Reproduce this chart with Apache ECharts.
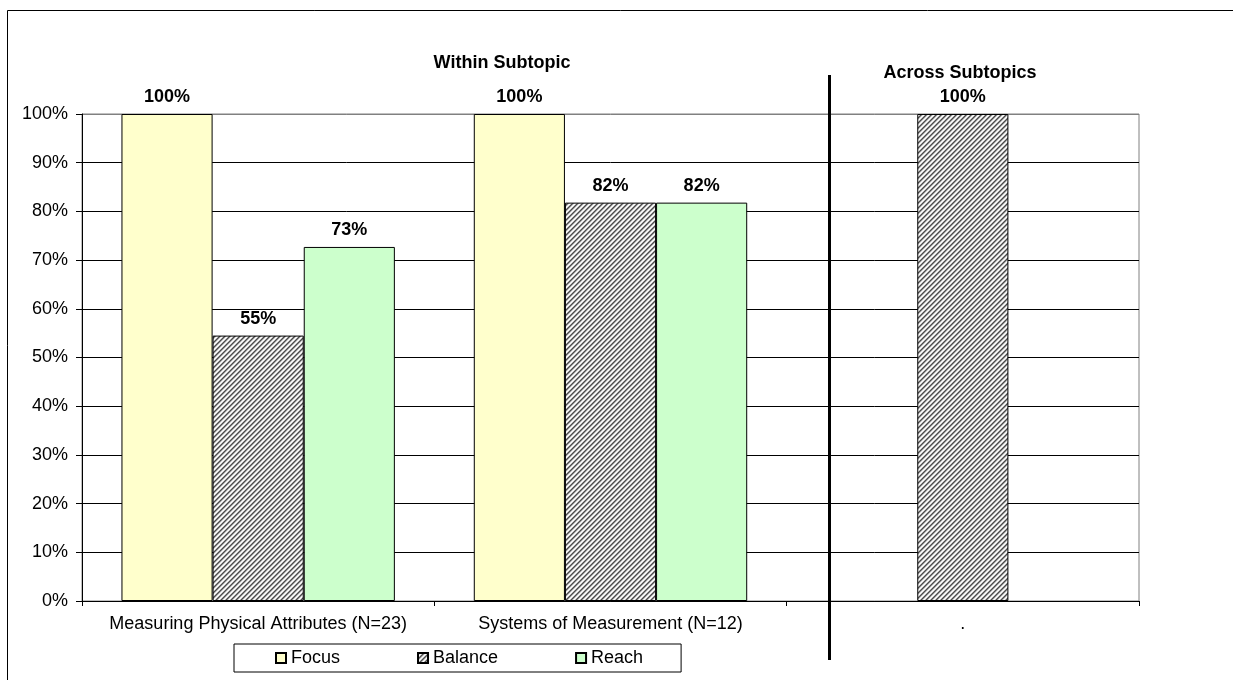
<!DOCTYPE html>
<html>
<head>
<meta charset="utf-8">
<script src="https://cdn.jsdelivr.net/npm/echarts@6/dist/echarts.min.js"></script>
<style>
html,body{margin:0;padding:0;background:#fff;}
#chart{width:1233px;height:680px;}
</style>
</head>
<body>
<div id="chart"></div>
<script>
const categories = ['Measuring Physical Attributes (N=23)', 'Systems of Measurement (N=12)', '.'];
const focusValues = [100, 100, null];
const balanceValues = [54.5, 81.8, 100];
const reachValues = [72.7, 81.8, null];
const yTicks = [0, 10, 20, 30, 40, 50, 60, 70, 80, 90, 100];
const seriesNames = ['Focus', 'Balance', 'Reach'];
const groupTitles = ['Within Subtopic', 'Across Subtopics'];

const FONT = '"Liberation Sans", Arial, sans-serif';
const FS = 18;

// hatch pattern for Balance (upward diagonal stripes)
const P = 5;
const pat = document.createElement('canvas');
pat.width = P; pat.height = P;
const pctx = pat.getContext('2d');
const shades = ['#4a4a4a', '#8c8c8c', '#e6e6e6', '#ffffff', '#b4b4b4'];
for (let x = 0; x < P; x++) {
  for (let y = 0; y < P; y++) {
    pctx.fillStyle = shades[(x + y) % P];
    pctx.fillRect(x, y, 1, 1);
  }
}

const chart = echarts.init(document.getElementById('chart'), null, {renderer: 'canvas'});

const labelCfg = {
  show: true,
  position: 'top',
  distance: 8,
  fontFamily: FONT,
  fontSize: FS,
  fontWeight: 'bold',
  color: '#000',
  formatter: p => Math.round(p.value) + '%'
};

const splitColors = yTicks.map((t, i) => i === yTicks.length - 1 ? '#808080' : '#000');

chart.setOption({
  animation: false,
  backgroundColor: '#fff',
  grid: {
    left: 82, right: 94, top: 114, bottom: 79,
    show: true, borderColor: '#808080', borderWidth: 1, backgroundColor: 'transparent'
  },
  legend: {
    data: seriesNames,
    left: 234, top: 644,
    orient: 'horizontal',
    itemWidth: 10, itemHeight: 10,
    itemGap: 77,
    padding: [5, 38, 5, 41],
    borderColor: '#000', borderWidth: 1,
    textStyle: {fontFamily: FONT, fontSize: FS, color: '#000'},
    icon: 'rect'
  },
  xAxis: {
    type: 'category',
    data: categories,
    boundaryGap: true,
    axisLine: {show: true, lineStyle: {color: '#000', width: 1}},
    axisTick: {show: true, length: 5, inside: false, alignWithLabel: false, lineStyle: {color: '#000'}},
    axisLabel: {fontFamily: FONT, fontSize: FS, color: '#000', margin: 14, interval: 0},
    splitLine: {show: false}
  },
  yAxis: {
    type: 'value',
    min: yTicks[0], max: yTicks[yTicks.length - 1], interval: 10,
    axisLine: {show: true, lineStyle: {color: '#000', width: 1}},
    axisTick: {show: true, length: 6, inside: false, lineStyle: {color: '#000'}},
    axisLabel: {fontFamily: FONT, fontSize: FS, color: '#000', margin: 14, formatter: '{value}%'},
    splitLine: {show: true, lineStyle: {color: splitColors, width: 1}}
  },
  series: [
    {
      name: seriesNames[0], type: 'bar', data: focusValues,
      barGap: '0%', barCategoryGap: '22.4%',
      itemStyle: {color: '#FFFFCC', borderColor: '#000', borderWidth: 1},
      label: labelCfg
    },
    {
      name: seriesNames[1], type: 'bar', data: balanceValues,
      barGap: '0%', barCategoryGap: '22.4%',
      itemStyle: {color: {image: pat, repeat: 'repeat'}, borderColor: '#000', borderWidth: 1},
      label: labelCfg
    },
    {
      name: seriesNames[2], type: 'bar', data: reachValues,
      barGap: '0%', barCategoryGap: '22.4%',
      itemStyle: {color: '#CCFFCC', borderColor: '#000', borderWidth: 1},
      label: labelCfg
    }
  ],
  graphic: [
    {
      type: 'rect', silent: true, z: 100,
      shape: {x: 7.5, y: 10.5, width: 1400, height: 900},
      style: {fill: 'none', stroke: '#000', lineWidth: 1}
    },
    {
      type: 'line', silent: true, z: 100,
      shape: {x1: 829.5, y1: 75, x2: 829.5, y2: 660},
      style: {stroke: '#000', lineWidth: 3}
    },
    {
      type: 'text', silent: true, z: 100,
      style: {x: 502, y: 63, text: groupTitles[0], fill: '#000', font: 'bold ' + FS + 'px ' + FONT, textAlign: 'center', textVerticalAlign: 'middle'}
    },
    {
      type: 'text', silent: true, z: 100,
      style: {x: 960, y: 73, text: groupTitles[1], fill: '#000', font: 'bold ' + FS + 'px ' + FONT, textAlign: 'center', textVerticalAlign: 'middle'}
    }
  ]
});
</script>
</body>
</html>
